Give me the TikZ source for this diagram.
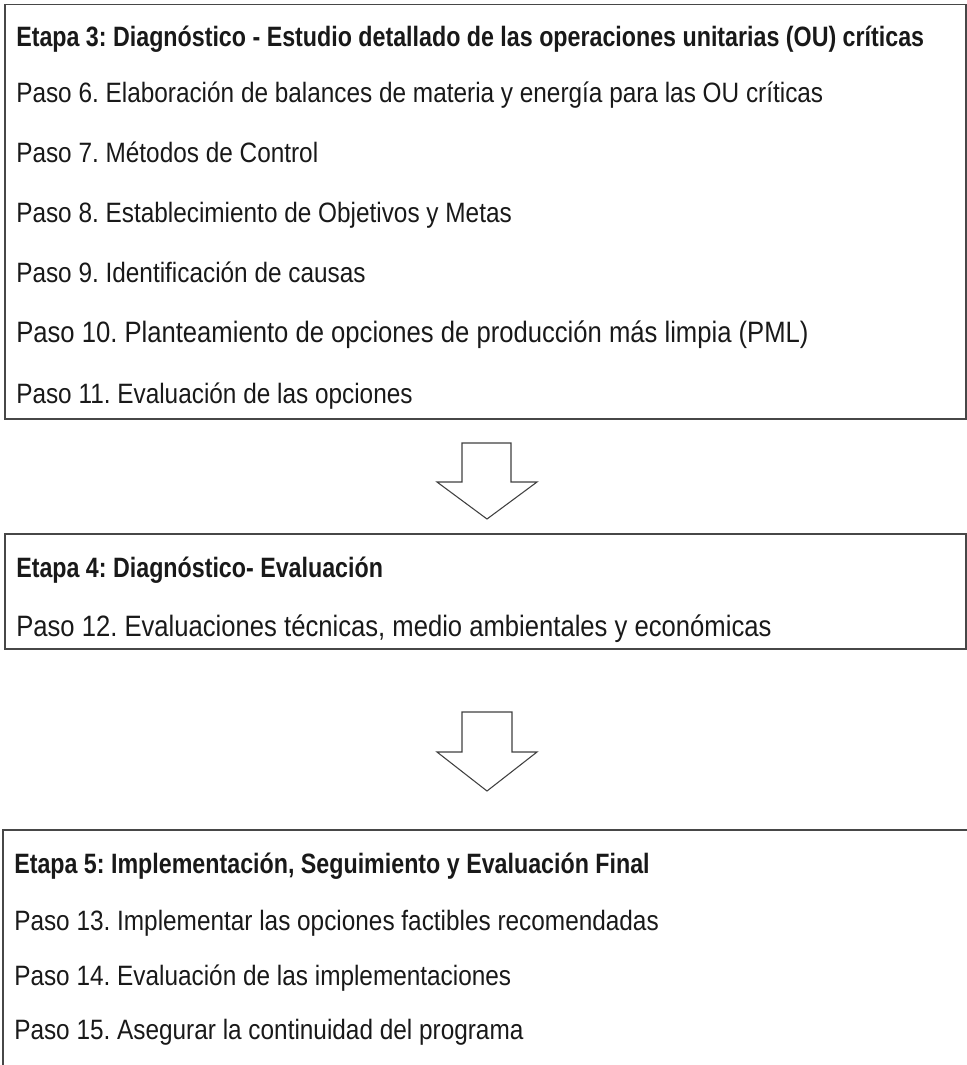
\documentclass[tikz,border=0pt]{standalone}
\usepackage{fontspec}
\setmainfont[FakeStretch=0.87,BoldFeatures={FakeStretch=0.83}]{Liberation Sans}
\usetikzlibrary{fit}
\frenchspacing
\begin{document}
\begin{tikzpicture}[x=0.75pt,y=-0.75pt,
  stagebox/.style={draw=black!72,line width=0.9pt,inner sep=0pt,fill=none},
  txt/.style={anchor=base west,inner sep=0pt,font=\fontsize{21pt}{25pt}\selectfont,text=black!90},
  txtwide/.style={txt,font=\fontsize{22.1pt}{25pt}\selectfont},
  ttl/.style={txt,font=\fontsize{21pt}{25pt}\selectfont\bfseries},
  blockarrow/.style={draw=black!75,line width=0.8pt,fill=white,line join=miter}]
\useasboundingbox (0,0) rectangle (967,1065);
\clip (0,0) rectangle (967,1065);
% boxes
\coordinate (b1a) at (5,4.7); \coordinate (b1b) at (966,419);
\node[stagebox,fit=(b1a)(b1b)] (box1) {};
\coordinate (b2a) at (5,534); \coordinate (b2b) at (966,649);
\node[stagebox,fit=(b2a)(b2b)] (box2) {};
\coordinate (b3a) at (3,830); \coordinate (b3b) at (990,1090);
\node[stagebox,fit=(b3a)(b3b)] (box3) {};
% box 1 text
\node[ttl] (t3) at (16,46.5) {Etapa 3: Diagnóstico - Estudio detallado de las operaciones unitarias (OU) críticas};
\node[txt] (p6) at (16,102) {Paso 6. Elaboración de balances de materia y energía para las OU críticas};
\node[txt] (p7) at (16,162.2) {Paso 7. Métodos de Control};
\node[txt] (p8) at (16,222.4) {Paso 8. Establecimiento de Objetivos y Metas};
\node[txt] (p9) at (16,282.6) {Paso 9. Identificación de causas};
\node[txtwide] (p10) at (16,342.8) {Paso 10. Planteamiento de opciones de producción más limpia (PML)};
\node[txt] (p11) at (16,403) {Paso 11. Evaluación de las opciones};
% box 2 text
\node[ttl] (t4) at (16,577) {Etapa 4: Diagnóstico- Evaluación};
\node[txtwide] (p12) at (16,636) {Paso 12. Evaluaciones técnicas, medio ambientales y económicas};
% box 3 text
\node[ttl] (t5) at (14,873.5) {Etapa 5: Implementación, Seguimiento y Evaluación Final};
\node[txt] (p13) at (14,930) {Paso 13. Implementar las opciones factibles recomendadas};
\node[txt] (p14) at (14,985) {Paso 14. Evaluación de las implementaciones};
\node[txt] (p15) at (14,1039) {Paso 15. Asegurar la continuidad del programa};
% block arrows
\draw[blockarrow] (462,443) -- (511,443) -- (511,482) -- (537,482) -- (487,519) -- (437,482) -- (462,482) -- cycle;
\draw[blockarrow] (462,712) -- (512,712) -- (512,752) -- (537,752) -- (487,791) -- (437,752) -- (462,752) -- cycle;
\end{tikzpicture}
\end{document}
